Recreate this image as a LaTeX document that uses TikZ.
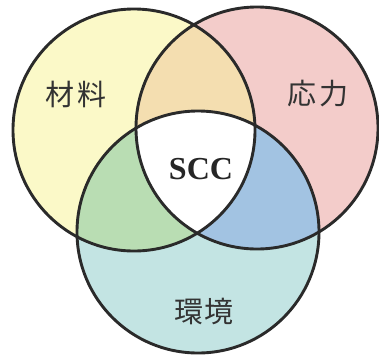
\documentclass[tikz,border=0pt]{standalone}
\usepackage{fontspec}
\setmainfont{Liberation Serif}
\newfontfamily\jpfont{Noto Sans CJK JP}
\definecolor{cyel}{HTML}{FBF9C8}
\definecolor{cpink}{HTML}{F3CCCA}
\definecolor{ccyan}{HTML}{C3E4E3}
\definecolor{corange}{HTML}{F4DEB0}
\definecolor{cgreen}{HTML}{B9DDB3}
\definecolor{cblue}{HTML}{A2C3E2}
\definecolor{cline}{HTML}{2A2A2A}
\begin{document}
\begin{tikzpicture}[x=1pt,y=-1pt,
  setc/.style={circle, draw=cline, line width=2.9pt, minimum size=242pt, inner sep=0pt},
  jplabel/.style={font=\jpfont\fontsize{29}{29}\selectfont, text=black!80, inner sep=0pt},
  scclabel/.style={font=\bfseries\fontsize{32}{32}\selectfont, text=black!85, inner sep=0pt}]
\useasboundingbox (0,0) rectangle (379,357);
\fill[white] (0,0) rectangle (379,357);
\coordinate (A) at (134,130);
\coordinate (B) at (257,128);
\coordinate (C) at (198,232);
% base fills
\fill[cyel] (A) circle (121pt);
\fill[cpink] (B) circle (121pt);
\fill[ccyan] (C) circle (121pt);
% pairwise overlaps
\begin{scope}
  \clip (A) circle (121pt);
  \fill[corange] (B) circle (121pt);
  \fill[cgreen] (C) circle (121pt);
\end{scope}
\begin{scope}
  \clip (B) circle (121pt);
  \fill[cblue] (C) circle (121pt);
\end{scope}
% centre
\begin{scope}
  \clip (A) circle (121pt);
  \clip (B) circle (121pt);
  \fill[white] (C) circle (121pt);
\end{scope}
% outlines
\node[setc] (mat) at (A) {};
\node[setc] (str) at (B) {};
\node[setc] (env) at (C) {};
% labels
\node[jplabel] (lmat) at (76,94) {材\hspace{4pt}料};
\node[jplabel] (lstr) at (318,94) {応\hspace{4pt}力};
\node[jplabel] (lenv) at (204,311) {環\hspace{2pt}境};
\node[scclabel] (scc) at (201,169) {SCC};
\end{tikzpicture}
\end{document}
